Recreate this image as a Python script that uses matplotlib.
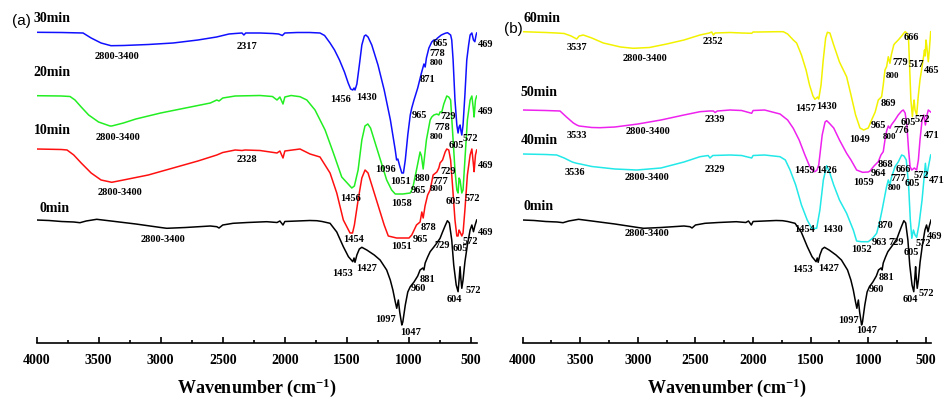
import matplotlib
matplotlib.use("Agg")
import matplotlib.pyplot as plt
from matplotlib.ticker import MultipleLocator

plt.rcParams['font.family'] = ['Liberation Serif', 'DejaVu Serif']
plt.rcParams['mathtext.fontset'] = 'custom'
plt.rcParams['mathtext.rm'] = 'Liberation Serif:bold'
plt.rcParams['mathtext.it'] = 'Liberation Serif:bold'
plt.rcParams['mathtext.bf'] = 'Liberation Serif:bold'

# ---------------- data (wavenumber in cm-1, signal in arbitrary units; axis drawn downward) -------------
t0_wn = [4000, 3900, 3800, 3700, 3650, 3600, 3515, 3400, 3200, 3000, 2951, 2800, 2600, 2548, 2530, 2500,
         2417, 2300, 2146, 2063, 2040, 2015, 2000, 1900, 1800, 1743, 1700, 1636, 1582, 1529, 1488, 1453,
         1443, 1435, 1420, 1400, 1380, 1340, 1280, 1233, 1180, 1151, 1130, 1111, 1099, 1086, 1075, 1058,
         1050, 1030, 1010, 990, 960, 930, 911, 889, 880, 870, 850, 830, 800, 776, 750, 730, 710, 691, 675,
         656, 640, 620, 605, 597, 589, 583, 575, 565, 550, 530, 508, 494, 481, 470, 455]
t0_val = [220, 220.5, 221.5, 222, 222.7, 221, 219.3, 221, 224, 227.5, 228.3, 227.5, 226, 226.7, 228, 225,
          223.3, 222.5, 221.7, 222.5, 221, 225, 221.5, 221, 220.5, 220.7, 221.5, 223.3, 232, 246.7, 256.7, 261.7,
          258, 262.3, 255, 249, 247.3, 250, 255, 260, 270, 280, 290, 301.7, 308.3, 300, 312, 325,
          322, 305, 292, 286.7, 282, 276, 270, 268, 270, 263, 257, 251.7, 247, 243, 238.3, 232, 226, 220.7, 223,
          240, 265, 285, 291.7, 280, 266.7, 278, 288.3, 280, 262, 245, 230, 225, 231.7, 226, 220]

t10_wn = [4000, 3800, 3754, 3700, 3640, 3560, 3480, 3394, 3300, 3100, 2900, 2700, 2548, 2500, 2400, 2345,
          2320, 2200, 2063, 2040, 2015, 2000, 1878, 1797, 1717, 1636, 1582, 1529, 1475, 1455, 1440, 1410,
          1380, 1354, 1330, 1300, 1250, 1200, 1167, 1100, 1000, 978, 940, 911, 897, 886, 871, 850, 830, 806,
          776, 760, 750, 730, 709, 696, 680, 665, 650, 630, 615, 605, 597, 589, 575, 565, 550, 530, 508, 494,
          481, 476, 465, 455]
t10_val = [149, 149.5, 150, 155, 163, 173, 180, 182.3, 180, 175, 168, 161, 155, 152.5, 150, 150.5,
           150, 150.5, 153, 151, 158, 151, 149, 154, 157, 173, 193, 220, 233, 233, 225, 200,
           178, 170, 173, 185, 205, 225, 236, 238, 238, 235, 225, 222, 212, 218, 206, 195, 190, 175,
           172, 168, 163, 160, 152, 149, 150, 160, 185, 220, 236, 236, 230, 232, 236, 233, 210, 175, 155, 149,
           165, 171.7, 155, 150]

t20_wn = [4000, 3800, 3730, 3690, 3640, 3580, 3500, 3408, 3394, 3300, 3200, 3000, 2800, 2600, 2548, 2530,
          2500, 2400, 2200, 2100, 2063, 2040, 2015, 2000, 1950, 1878, 1823, 1757, 1676, 1609, 1542, 1461,
          1440, 1410, 1380, 1355, 1332, 1310, 1280, 1230, 1180, 1140, 1111, 1050, 990, 970, 940, 911, 900,
          886, 878, 860, 830, 817, 800, 776, 760, 750, 736, 720, 696, 680, 665, 650, 630, 615, 605, 597, 589,
          575, 565, 550, 530, 508, 494, 481, 476, 465, 455]
t20_val = [95.7, 96, 96.5, 100, 107, 115, 122, 126, 126, 123, 119, 113, 108, 103, 100, 101,
           98, 96, 95.5, 96.5, 100, 97, 104, 97, 95.5, 96.7, 100, 110, 130, 153, 177, 188,
           186, 170, 140, 126, 124, 128, 140, 160, 180, 190, 194, 194, 193, 188, 170, 152, 156,
           169, 160, 140, 120, 117, 115, 114, 115, 112, 112, 104, 96, 97, 100, 130, 170, 190, 193, 178, 180,
           193, 190, 160, 120, 100, 96, 110, 117, 100, 96]

t30_wn = [4000, 3800, 3625, 3560, 3480, 3400, 3300, 3100, 2900, 2700, 2550, 2450, 2400, 2345, 2330, 2315,
          2200, 2100, 2050, 2020, 2000, 1900, 1800, 1717, 1680, 1636, 1600, 1560, 1520, 1490, 1470, 1453,
          1443, 1435, 1420, 1400, 1380, 1360, 1348, 1330, 1300, 1250, 1200, 1150, 1111, 1100, 1090, 1075,
          1058, 1045, 1030, 1010, 990, 978, 960, 930, 900, 889, 880, 870, 860, 840, 817, 800, 790, 770, 740,
          709, 690, 665, 656, 645, 630, 615, 605, 597, 589, 583, 575, 565, 550, 535, 520, 508, 494, 481, 470,
          460, 455]
t30_val = [32.3, 32.5, 33, 38, 43, 45.7, 45.5, 44.5, 43, 40, 37, 34, 33.5, 33, 35, 33,
           33, 33.5, 34, 35.5, 33, 32.5, 32.5, 33, 35.5, 43, 50, 60, 72, 83, 89, 90,
           88, 90, 84, 65, 45, 36, 35, 37, 45, 65, 90, 120, 150, 160, 159, 166,
           173, 173, 160, 135, 115, 108, 100, 88, 73, 68, 64, 67, 58, 48, 42, 40, 40.5, 38, 35,
           33.3, 32.7, 35, 40, 60, 100, 125, 133, 127, 125, 130, 135, 125, 95, 60, 45, 35, 33, 40, 41.7,
           35, 33]

t40_wn = [4000, 3800, 3705, 3640, 3570, 3531, 3500, 3400, 3200, 3010, 2800, 2600, 2461, 2390, 2374, 2350,
          2200, 2100, 2012, 2000, 1900, 1766, 1720, 1679, 1630, 1580, 1530, 1491, 1448, 1420, 1390, 1361,
          1333, 1300, 1250, 1188, 1130, 1101, 1060, 1000, 960, 927, 901, 880, 855, 841, 826, 812, 800, 768,
          740, 710, 690, 670, 650, 635, 622, 608, 594, 580, 560, 533, 504, 493, 475, 458]
t40_val = [154, 154.5, 155, 158, 162, 163.3, 164, 166.5, 169, 170, 168, 162, 156.7, 155.5, 158, 155.5,
           155, 155.5, 158, 155.5, 155, 156.7, 160, 170, 185, 205, 220, 228.3, 228.3, 210, 180, 165.7,
           173.3, 185, 200, 213.3, 230, 241, 241.7, 241.7, 238, 233.3, 221.7, 210, 195, 186.7, 180, 185, 178, 166.7,
           162, 155, 156, 160, 185, 220, 238.3, 230, 235, 237.3, 225, 200, 163.3, 176.7, 165, 155]

t50_wn = [4000, 3800, 3676, 3620, 3560, 3531, 3510, 3400, 3329, 3200, 3000, 2800, 2600, 2461, 2380, 2345,
          2330, 2310, 2200, 2100, 2012, 2000, 1900, 1766, 1700, 1651, 1600, 1550, 1510, 1480, 1463, 1445,
          1430, 1400, 1375, 1361, 1340, 1300, 1250, 1188, 1150, 1101, 1050, 1000, 985, 950, 913, 890, 870,
          855, 841, 826, 812, 800, 768, 740, 710, 696, 680, 665, 650, 637, 622, 600, 580, 565, 551, 533, 518,
          504, 490, 479, 458]
t50_val = [110, 110.5, 111, 117, 123, 125, 126, 127.5, 127.7, 127, 124, 120, 115, 111.7, 111, 111,
           112.5, 111, 110, 110.5, 113.3, 110.5, 110, 114, 120, 128.3, 140, 155, 166, 171, 171.7, 170,
           165, 135, 122, 120.7, 123, 128, 140, 153.3, 160, 170, 172.3, 172, 171, 166, 161.7, 155, 151.7,
           140, 131, 126, 128.3, 125, 120, 115, 111, 110, 113, 125, 150, 166.7, 170, 168, 170, 160, 140, 120, 115,
           125, 115, 110, 112]

t60_wn = [4000, 3800, 3705, 3640, 3580, 3531, 3510, 3474, 3400, 3300, 3150, 3040, 2900, 2750, 2600, 2461,
          2380, 2359, 2345, 2330, 2200, 2100, 2012, 2000, 1950, 1800, 1738, 1700, 1651, 1622, 1580, 1540,
          1510, 1480, 1463, 1440, 1430, 1410, 1391, 1370, 1355, 1333, 1300, 1250, 1188, 1150, 1110, 1072,
          1040, 1000, 971, 940, 913, 884, 870, 855, 841, 826, 812, 800, 779, 768, 740, 710, 690, 680, 665,
          650, 640, 630, 617, 608, 602, 594, 580, 565, 551, 533, 518, 512, 506, 499, 493, 479, 470, 458]
t60_val = [31.7, 32.5, 33, 33.5, 36, 39, 36, 35, 38, 43, 47, 48.3, 47.5, 44, 40, 35,
           33, 32, 35, 33, 32.5, 33, 33.3, 32, 32, 31.7, 31.7, 34, 40, 43, 55, 70,
           85, 96, 99.3, 97, 99, 85, 60, 38, 32.3, 33, 45, 62, 76.7, 95, 115, 128,
           130, 128, 120, 112, 100, 96.7, 85, 70, 66.7, 56.7, 63.3, 55, 45, 43.3, 40, 36, 33, 31.7, 33,
           40, 70, 100, 116.7, 105, 100, 110, 115, 95, 80, 66.7, 55, 50, 56, 40, 45, 61.7, 50, 31.7]

x_ticks = [4000, 3500, 3000, 2500, 2000, 1500, 1000, 500]
x_label = "Wavenumber (cm$^{-1}$)"

left_series = [("30min", t30_wn, t30_val, "#1010FF"),
               ("20min", t20_wn, t20_val, "#22EE22"),
               ("10min", t10_wn, t10_val, "#FF1010"),
               ("0min", t0_wn, t0_val, "#000000")]
right_series = [("60min", t60_wn, t60_val, "#F2F200"),
                ("50min", t50_wn, t50_val, "#EE22EE"),
                ("40min", t40_wn, t40_val, "#22E8E8"),
                ("0min", t0_wn, t0_val, "#000000")]

# annotation layout: (text, wavenumber, level)
left_names = [("30min", 3878, 18.3), ("20min", 3878, 72.7), ("10min", 3870, 130), ("0min", 3851, 208.3)]
right_names = [("60min", 3835, 18.3), ("50min", 3856, 92.7), ("40min", 3856, 140.7), ("0min", 3865, 206.7)]

left_peaks = [
    ("2800-3400", 3354, 56.7), ("2317", 2307, 46.7), ("2800-3400", 3341, 137.7), ("2328", 2307, 160),
    ("2800-3400", 3327, 192.7), ("1456", 1550, 99), ("1430", 1340, 97.3), ("665", 750, 43.3),
    ("778", 776, 53.3), ("800", 776, 63.3), ("871", 849, 80), ("469", 387, 44.3), ("965", 917, 115),
    ("1096", 1193, 169), ("1051", 1072, 181.7), ("729", 683, 116.7), ("778", 736, 127.3), ("800", 776, 136.7),
    ("605", 621, 145.7), ("572", 503, 138.3), ("469", 387, 111), ("880", 889, 178.3), ("965", 925, 190.7),
    ("777", 750, 181.7), ("800", 782, 189.3), ("729", 688, 171.7), ("1058", 1058, 203.3), ("1456", 1469, 198.3),
    ("605", 643, 201.7), ("572", 494, 198.3), ("469", 387, 165.7), ("878", 844, 227.3), ("965", 905, 239.3),
    ("1051", 1058, 246.7), ("1454", 1443, 239.3), ("729", 736, 245), ("605", 589, 248.3), ("572", 508, 241.7),
    ("469", 387, 232.3), ("1453", 1534, 274), ("1427", 1340, 268.3), ("881", 849, 279.3), ("960", 925, 288.3),
    ("604", 635, 299), ("572", 486, 290.7), ("2800-3400", 2979, 239.3), ("1097", 1193, 319.3), ("1047", 986, 332.7)]

right_peaks = [
    ("3537", 3526, 47.3), ("2800-3400", 2938, 58.3), ("2352", 2346, 41.7), ("3533", 3526, 135),
    ("2800-3400", 2910, 131.7), ("2339", 2331, 119.3), ("3536", 3546, 172.3), ("2800-3400", 2924, 177.7),
    ("2329", 2331, 170), ("1457", 1544, 108.3), ("1430", 1361, 106.7), ("666", 630, 37.3), ("779", 725, 62.7),
    ("517", 580, 64.3), ("465", 450, 70.7), ("800", 792, 76), ("869", 827, 103.3), ("965", 913, 125.7),
    ("1049", 1072, 139.3), ("605", 653, 122.7), ("572", 531, 119.3), ("776", 716, 130.7), ("800", 812, 137.3),
    ("471", 450, 135.7), ("1459", 1550, 170.7), ("1426", 1361, 170.7), ("868", 855, 164.3), ("666", 696, 169.3),
    ("964", 907, 174), ("777", 740, 178.3), ("1059", 1044, 182.7), ("800", 768, 188.3), ("605", 615, 183.3),
    ("572", 537, 176), ("471", 406, 180.7), ("1454", 1556, 230), ("1430", 1309, 229.3), ("870", 847, 225.7),
    ("963", 905, 242.7), ("729", 754, 242.7), ("1052", 1057, 249.3), ("572", 523, 243.3), ("605", 623, 252.7),
    ("469", 421, 236.7), ("1453", 1570, 269.3), ("1427", 1347, 268.3), ("881", 840, 277.3), ("960", 927, 289.3),
    ("604", 638, 300), ("572", 493, 293.3), ("2800-3400", 2924, 234), ("1097", 1174, 320.7), ("1047", 1014, 330.7)]

# ---------------- figure ----------------
W, H = 951, 401
fig = plt.figure(figsize=(W / 100, H / 100), dpi=100)
axL = fig.add_axes([36.5 / W, (H - 343) / H, (476.7 - 36.5) / W, 333 / H])
axR = fig.add_axes([522.7 / W, (H - 343) / H, (930.7 - 522.7) / W, 333 / H])


def style(ax, xmax):
    ax.set_xlim(4000, xmax)
    ax.set_ylim(343, 10)
    for s in ("top", "left", "right"):
        ax.spines[s].set_visible(False)
    ax.spines["bottom"].set_linewidth(1.2)
    ax.set_yticks([])
    ax.set_xticks(x_ticks)
    ax.xaxis.set_minor_locator(MultipleLocator(250))
    ax.tick_params(axis="x", which="major", direction="in", length=4.5, width=1.2, pad=8, labelsize=10)
    ax.tick_params(axis="x", which="minor", direction="in", length=2.5, width=1.2)
    for lab in ax.get_xticklabels():
        lab.set_fontweight("bold")
    ax.set_xlabel(x_label, fontsize=13, fontweight="bold")
    ax.xaxis.set_label_coords(0.5, -0.133)
    ax.xaxis.label.set_va("center")
    ax.patch.set_alpha(0)


def draw(ax, series, names, peaks):
    for _, wn, val, col in series:
        ax.plot(wn, val, color=col, lw=1.1, solid_joinstyle="round")
    for txt, x, y in names:
        ax.text(x, y, txt, ha="center", va="center", fontsize=10, fontweight="bold")
    for txt, x, y in peaks:
        size = 6.5 if txt == "800" else 7.5
        ax.text(x, y, txt, ha="center", va="center", fontsize=size, fontweight="bold", clip_on=False)


style(axL, 455)
style(axR, 458)
draw(axL, left_series, left_names, left_peaks)
draw(axR, right_series, right_names, right_peaks)

fig.text(21 / W, 1 - 21.5 / H, "(a)", ha="center", va="center", fontsize=11,
         family=["Liberation Sans", "DejaVu Sans"])
fig.text(513 / W, 1 - 29 / H, "(b)", ha="center", va="center", fontsize=11,
         family=["Liberation Sans", "DejaVu Sans"])

fig.savefig("out.png", dpi=100)
